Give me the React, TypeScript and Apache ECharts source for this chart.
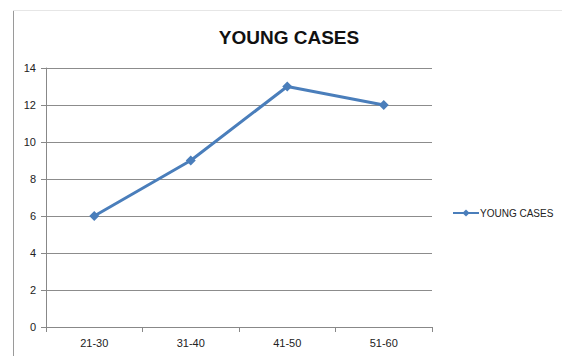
import React, { useEffect, useRef } from "react";
import * as echarts from "echarts";

const categories = ["21-30", "31-40", "41-50", "51-60"];
const youngCases = [6, 9, 13, 12];
const seriesName = "YOUNG CASES";

export default function App() {
  const ref = useRef<HTMLDivElement>(null);

  useEffect(() => {
    if (!ref.current) return;
    const chart = echarts.init(ref.current, undefined, { renderer: "svg" });
    const font = "'Liberation Sans', Arial, sans-serif";
    chart.setOption({
      animation: false,
      backgroundColor: "#ffffff",
      title: {
        text: "YOUNG CASES",
        left: 284,
        textAlign: "center",
        top: 23,
        textStyle: { fontFamily: font, fontSize: 19, fontWeight: "bold", color: "#111" },
      },
      graphic: [
        {
          type: "line",
          shape: { x1: 13.5, y1: 10, x2: 13.5, y2: 356 },
          style: { stroke: "#9a9a9a", lineWidth: 1 },
        },
        {
          type: "line",
          shape: { x1: 13, y1: 10.5, x2: 562, y2: 10.5 },
          style: { stroke: "#e6e6e6", lineWidth: 1 },
        },
      ],
      legend: {
        left: 447,
        top: 203,
        itemWidth: 26,
        itemHeight: 9,
        itemGap: 2,
        textStyle: { fontFamily: font, fontSize: 10, color: "#222", padding: [0, 0, 0, -4] },
        data: [seriesName],
      },
      grid: { left: 46, right: 130, top: 68, bottom: 29 },
      xAxis: {
        type: "category",
        data: categories,
        boundaryGap: true,
        axisLine: { lineStyle: { color: "#888", width: 1 } },
        axisTick: { show: true, length: 5, alignWithLabel: false, lineStyle: { color: "#888" } },
        axisLabel: { fontFamily: font, fontSize: 11, color: "#222", margin: 10 },
      },
      yAxis: {
        type: "value",
        min: 0,
        max: 14,
        interval: 2,
        axisLine: { show: true, lineStyle: { color: "#888", width: 1 } },
        axisTick: { show: true, length: 5, lineStyle: { color: "#888" } },
        axisLabel: { fontFamily: font, fontSize: 11, color: "#222", margin: 10 },
        splitLine: { lineStyle: { color: "#8c8c8c", width: 1 } },
      },
      series: [
        {
          name: seriesName,
          type: "line",
          data: youngCases,
          symbol: "diamond",
          symbolSize: 10,
          lineStyle: { color: "#4a7ebb", width: 3 },
          itemStyle: { color: "#4a7ebb" },
        },
      ],
    });
    return () => chart.dispose();
  }, []);

  return <div ref={ref} style={{ width: 562, height: 356, position: "absolute", left: 0, top: 0 }} />;
}
